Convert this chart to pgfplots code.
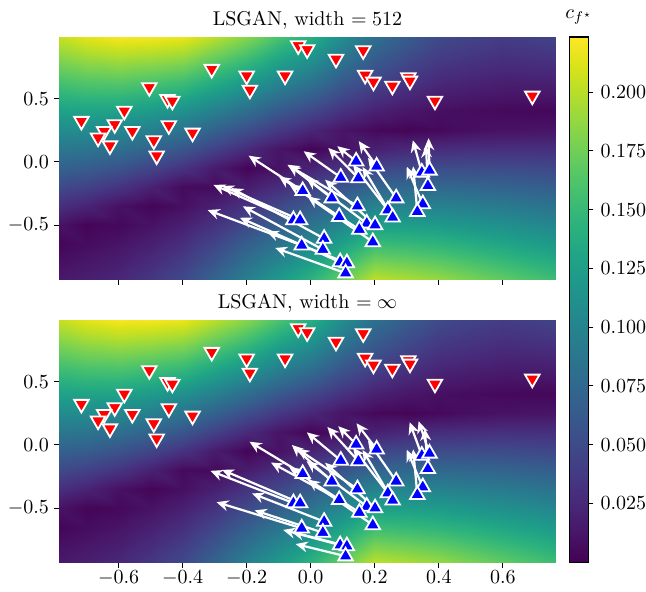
\documentclass[border=0pt]{standalone}
\usepackage{pgfplots}
\pgfplotsset{compat=1.18}
\usepackage{pgfplotstable}
\usetikzlibrary{arrows.meta}

% c_{f*} on a 17 x 14 grid
\pgfplotstableread{
x y c
-0.786 -0.94 0.0151
-0.7 -0.94 0.0194
-0.6 -0.94 0.0249
-0.5 -0.94 0.036
-0.4 -0.94 0.0497
-0.3 -0.94 0.072
-0.2 -0.94 0.0979
-0.1 -0.94 0.1213
0.0 -0.94 0.1456
0.1 -0.94 0.1738
0.2 -0.94 0.2036
0.3 -0.94 0.1975
0.4 -0.94 0.1903
0.5 -0.94 0.1805
0.6 -0.94 0.1708
0.7 -0.94 0.1613
0.766 -0.94 0.1548
-0.786 -0.8 0.0092
-0.7 -0.8 0.0132
-0.6 -0.8 0.0183
-0.5 -0.8 0.0278
-0.4 -0.8 0.0399
-0.3 -0.8 0.0594
-0.2 -0.8 0.0825
-0.1 -0.8 0.1038
0.0 -0.8 0.126
0.1 -0.8 0.1517
0.2 -0.8 0.1788
0.3 -0.8 0.1743
0.4 -0.8 0.1685
0.5 -0.8 0.1602
0.6 -0.8 0.1519
0.7 -0.8 0.1436
0.766 -0.8 0.138
-0.786 -0.65 0.0029
-0.7 -0.65 0.0066
-0.6 -0.65 0.0113
-0.5 -0.65 0.0191
-0.4 -0.65 0.0294
-0.3 -0.65 0.0459
-0.2 -0.65 0.066
-0.1 -0.65 0.085
0.0 -0.65 0.105
0.1 -0.65 0.128
0.2 -0.65 0.1522
0.3 -0.65 0.1494
0.4 -0.65 0.1451
0.5 -0.65 0.1385
0.6 -0.65 0.1316
0.7 -0.65 0.1247
0.766 -0.65 0.12
-0.786 -0.5 0.0104
-0.7 -0.5 0.002
-0.6 -0.5 0.0042
-0.5 -0.5 0.0104
-0.4 -0.5 0.0189
-0.3 -0.5 0.0324
-0.2 -0.5 0.0495
-0.1 -0.5 0.0663
0.0 -0.5 0.084
0.1 -0.5 0.1043
0.2 -0.5 0.1257
0.3 -0.5 0.1245
0.4 -0.5 0.1217
0.5 -0.5 0.1167
0.6 -0.5 0.1114
0.7 -0.5 0.1058
0.766 -0.5 0.102
-0.786 -0.35 0.0299
-0.7 -0.35 0.0216
-0.6 -0.35 0.0095
-0.5 -0.35 0.002
-0.4 -0.35 0.0084
-0.3 -0.35 0.0189
-0.2 -0.35 0.033
-0.1 -0.35 0.0475
0.0 -0.35 0.063
0.1 -0.35 0.0806
0.2 -0.35 0.0991
0.3 -0.35 0.0996
0.4 -0.35 0.0983
0.5 -0.35 0.095
0.6 -0.35 0.0911
0.7 -0.35 0.0869
0.766 -0.35 0.084
-0.786 -0.2 0.0494
-0.7 -0.2 0.0432
-0.6 -0.2 0.0332
-0.5 -0.2 0.0202
-0.4 -0.2 0.0053
-0.3 -0.2 0.0054
-0.2 -0.2 0.0165
-0.1 -0.2 0.0288
0.0 -0.2 0.042
0.1 -0.2 0.0569
0.2 -0.2 0.0726
0.3 -0.2 0.0747
0.4 -0.2 0.0749
0.5 -0.2 0.0732
0.6 -0.2 0.0709
0.7 -0.2 0.068
0.766 -0.2 0.066
-0.786 -0.05 0.0689
-0.7 -0.05 0.0648
-0.6 -0.05 0.0569
-0.5 -0.05 0.0454
-0.4 -0.05 0.032
-0.3 -0.05 0.0159
-0.2 -0.05 0.002
-0.1 -0.05 0.01
0.0 -0.05 0.021
0.1 -0.05 0.0332
0.2 -0.05 0.046
0.3 -0.05 0.0498
0.4 -0.05 0.0515
0.5 -0.05 0.0515
0.6 -0.05 0.0506
0.7 -0.05 0.0491
0.766 -0.05 0.048
-0.786 0.1 0.0884
-0.7 0.1 0.0864
-0.6 0.1 0.0806
-0.5 0.1 0.0706
-0.4 0.1 0.0587
-0.3 0.1 0.0425
-0.2 0.1 0.0264
-0.1 0.1 0.0116
0.0 0.1 0.002
0.1 0.1 0.0095
0.2 0.1 0.0195
0.3 0.1 0.0249
0.4 0.1 0.0281
0.5 0.1 0.0297
0.6 0.1 0.0304
0.7 0.1 0.0302
0.766 0.1 0.03
-0.786 0.25 0.1079
-0.7 0.25 0.108
-0.6 0.25 0.1043
-0.5 0.25 0.0958
-0.4 0.25 0.0854
-0.3 0.25 0.069
-0.2 0.25 0.0528
-0.1 0.25 0.0365
0.0 0.25 0.0236
0.1 0.25 0.0117
0.2 0.25 0.0042
0.3 0.25 0.002
0.4 0.25 0.0047
0.5 0.25 0.008
0.6 0.25 0.0101
0.7 0.25 0.0113
0.766 0.25 0.012
-0.786 0.4 0.1274
-0.7 0.4 0.1296
-0.6 0.4 0.128
-0.5 0.4 0.121
-0.4 0.4 0.1121
-0.3 0.4 0.0956
-0.2 0.4 0.0792
-0.1 0.4 0.0614
0.0 0.4 0.0471
0.1 0.4 0.0312
0.2 0.4 0.0198
0.3 0.4 0.0131
0.4 0.4 0.0084
0.5 0.4 0.0062
0.6 0.4 0.0045
0.7 0.4 0.0039
0.766 0.4 0.0035
-0.786 0.55 0.1469
-0.7 0.55 0.1512
-0.6 0.55 0.1517
-0.5 0.55 0.1462
-0.4 0.55 0.1388
-0.3 0.55 0.1221
-0.2 0.55 0.1056
-0.1 0.55 0.0863
0.0 0.55 0.0707
0.1 0.55 0.0507
0.2 0.55 0.0354
0.3 0.55 0.0261
0.4 0.55 0.0189
0.5 0.55 0.0159
0.6 0.55 0.0135
0.7 0.55 0.0137
0.766 0.55 0.014
-0.786 0.7 0.1664
-0.7 0.7 0.1728
-0.6 0.7 0.1754
-0.5 0.7 0.1714
-0.4 0.7 0.1655
-0.3 0.7 0.1487
-0.2 0.7 0.132
-0.1 0.7 0.1112
0.0 0.7 0.0942
0.1 0.7 0.0702
0.2 0.7 0.051
0.3 0.7 0.0392
0.4 0.7 0.0294
0.5 0.7 0.0257
0.6 0.7 0.0225
0.7 0.7 0.0234
0.766 0.7 0.0245
-0.786 0.85 0.1859
-0.7 0.85 0.1944
-0.6 0.85 0.1991
-0.5 0.85 0.1966
-0.4 0.85 0.1922
-0.3 0.85 0.1752
-0.2 0.85 0.1584
-0.1 0.85 0.1361
0.0 0.85 0.1178
0.1 0.85 0.0897
0.2 0.85 0.0666
0.3 0.85 0.0522
0.4 0.85 0.0399
0.5 0.85 0.0354
0.6 0.85 0.0315
0.7 0.85 0.0332
0.766 0.85 0.035
-0.786 0.99 0.2041
-0.7 0.99 0.2146
-0.6 0.99 0.2212
-0.5 0.99 0.2201
-0.4 0.99 0.2172
-0.3 0.99 0.2
-0.2 0.99 0.183
-0.1 0.99 0.1594
0.0 0.99 0.1397
0.1 0.99 0.1079
0.2 0.99 0.0811
0.3 0.99 0.0644
0.4 0.99 0.0497
0.5 0.99 0.0445
0.6 0.99 0.0399
0.7 0.99 0.0423
0.766 0.99 0.0448
}\heat

% real samples
\pgfplotstableread{
x y
-0.039 0.923
-0.011 0.891
-0.309 0.736
-0.200 0.683
-0.190 0.571
-0.080 0.683
-0.504 0.591
-0.447 0.497
-0.432 0.484
-0.582 0.404
-0.716 0.324
-0.612 0.298
-0.645 0.244
-0.664 0.192
-0.627 0.130
-0.557 0.244
-0.443 0.290
-0.369 0.231
-0.490 0.170
-0.481 0.050
0.079 0.816
0.164 0.883
0.170 0.689
0.196 0.635
0.255 0.603
0.305 0.670
0.310 0.643
0.388 0.484
0.692 0.524
}\real

% generated samples and their gradients, width = 512
\pgfplotstableread{
x y u v
0.142 0.005 -0.059 0.120
0.206 -0.035 -0.056 0.200
0.094 -0.123 -0.116 0.208
0.149 -0.128 -0.094 0.239
-0.025 -0.229 -0.169 0.279
0.066 -0.287 -0.134 0.263
0.267 -0.287 -0.088 0.319
0.347 -0.083 -0.028 0.255
0.371 -0.067 -0.003 0.255
0.366 -0.189 -0.006 0.319
0.350 -0.333 -0.050 0.295
0.333 -0.394 -0.013 0.359
0.241 -0.381 -0.109 0.359
0.256 -0.439 -0.094 0.399
0.146 -0.349 -0.219 0.327
0.089 -0.434 -0.188 0.319
-0.054 -0.460 -0.250 0.279
-0.033 -0.460 -0.244 0.271
0.175 -0.487 -0.188 0.359
0.201 -0.500 -0.156 0.359
0.152 -0.535 -0.219 0.359
0.194 -0.634 -0.203 0.359
0.042 -0.607 -0.290 0.400
-0.028 -0.660 -0.294 0.279
0.038 -0.694 -0.250 0.343
0.092 -0.793 -0.313 0.351
0.113 -0.801 -0.250 0.250
0.109 -0.881 -0.220 0.200
}\genA

% same samples, width = infinity
\pgfplotstableread{
x y u v
0.142 0.005 -0.056 0.144
0.206 -0.035 -0.063 0.207
0.094 -0.123 -0.106 0.223
0.149 -0.128 -0.097 0.271
-0.025 -0.229 -0.166 0.255
0.066 -0.287 -0.125 0.287
0.267 -0.287 -0.088 0.319
0.347 -0.083 -0.038 0.263
0.371 -0.067 -0.034 0.255
0.366 -0.189 -0.010 0.319
0.350 -0.333 -0.050 0.295
0.333 -0.394 -0.013 0.359
0.241 -0.381 -0.109 0.359
0.256 -0.439 -0.094 0.399
0.146 -0.349 -0.188 0.319
0.089 -0.434 -0.213 0.295
-0.054 -0.460 -0.259 0.255
-0.033 -0.460 -0.244 0.263
0.175 -0.487 -0.188 0.359
0.201 -0.500 -0.156 0.359
0.152 -0.535 -0.219 0.359
0.194 -0.634 -0.203 0.359
0.042 -0.607 -0.225 0.223
-0.028 -0.660 -0.266 0.207
0.038 -0.694 -0.213 0.176
0.092 -0.793 -0.178 0.120
0.113 -0.801 -0.172 0.112
0.109 -0.881 -0.156 0.096
}\genB

\pgfplotsset{
  panel/.style={
    width=248.5pt, height=121.5pt, scale only axis,
    xmin=-0.786, xmax=0.766, ymin=-0.935, ymax=0.99,
    axis on top, clip mode=global,
    axis line style={draw=none},
    colormap/viridis, point meta min=0, point meta max=0.2235,
    xtick={-0.6,-0.4,...,0.6}, ytick={-0.5,0,0.5},
    xtick pos=bottom, ytick pos=left,
    tick align=outside, major tick length=2.5pt,
    tick style={black, line width=0.5pt},
    xticklabel style={yshift=2.2pt, /pgf/number format/.cd, fixed, fixed zerofill, precision=1},
    yticklabel style={xshift=1pt, /pgf/number format/.cd, fixed, fixed zerofill, precision=1},
    title style={yshift=-5.5pt},
  },
  realpts/.style={only marks, mark=triangle*, mark size=4.2pt,
    mark options={rotate=180, fill=red, draw=white, line width=0.9pt}},
  genpts/.style={only marks, mark=triangle*, mark size=4.2pt,
    mark options={fill=blue, draw=white, line width=0.9pt}},
  grads/.style={white, line width=1.1pt, -{Stealth[length=6pt, width=5.4pt]},
    quiver={u=\thisrow{u}, v=\thisrow{v}}},
}

\begin{document}
\begin{tikzpicture}
\useasboundingbox (-29.5pt,-14.5pt) rectangle (293.5pt,281.5pt);
\begin{axis}[panel, at={(0,141.5pt)}, anchor=south west,
  title={LSGAN, width $=512$}, xticklabels={},
  colorbar right,
  colorbar style={
    at={(parent axis.north east)}, anchor=north west, xshift=-1.8pt,
    width=9.5pt, height=262.6pt, scale only axis,
    ytick={0.025,0.05,...,0.2}, ytick pos=right, tick align=outside,
    major tick length=2.5pt, tick style={black, line width=0.5pt},
    axis line style={black, line width=0.6pt},
    yticklabel style={/pgf/number format/.cd, fixed, fixed zerofill, precision=3},
    title={$c_{f^\star}$}, title style={yshift=-3pt},
  }]
\addplot[surf, shader=interp, mesh/cols=17, point meta=explicit]
  table[x=x, y=y, meta=c] {\heat};
\addplot[grads] table {\genA};
\addplot[genpts] table[x=x, y=y] {\genA};
\addplot[realpts] table {\real};
\end{axis}

\begin{axis}[panel, at={(0,0)}, anchor=south west,
  title={LSGAN, width $=\infty$}]
\addplot[surf, shader=interp, mesh/cols=17, point meta=explicit]
  table[x=x, y=y, meta=c] {\heat};
\addplot[grads] table {\genB};
\addplot[genpts] table[x=x, y=y] {\genB};
\addplot[realpts] table {\real};
\end{axis}
\end{tikzpicture}
\end{document}
